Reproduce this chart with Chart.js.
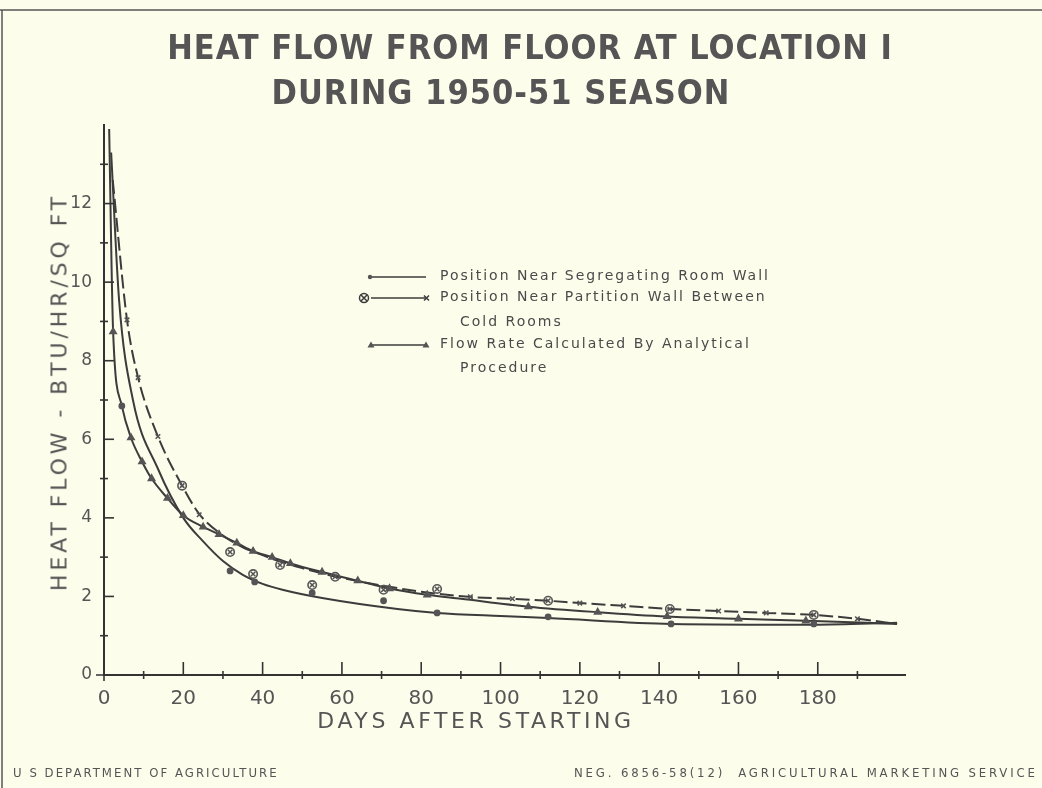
<!DOCTYPE html>
<html>
<head>
<meta charset="utf-8">
<script src="https://cdn.jsdelivr.net/npm/chart.js@4/dist/chart.umd.min.js"></script>
<style>
  html,body{margin:0;padding:0;background:#fdfdec;}
  #wrap{position:relative;width:1042px;height:788px;overflow:hidden;background:#fdfdec;}
  canvas{position:absolute;left:0;top:0;}
  .t{position:absolute;color:#555;white-space:nowrap;font-family:"DejaVu Sans Condensed","DejaVu Sans",sans-serif;}
  .title{font-weight:bold;font-size:34px;letter-spacing:1px;transform:translateX(-50%);}
  .leg{font-family:"DejaVu Sans","Liberation Sans",sans-serif;font-size:14px;color:#4a4a4a;letter-spacing:2px;}
  .foot{font-size:13px;color:#555;}
  .axt{font-family:"DejaVu Sans","Liberation Sans",sans-serif;font-size:22px;color:#555;}
</style>
</head>
<body>
<div id="wrap">
  <canvas id="c" width="1042" height="788"></canvas>
  <div class="t title" style="left:530px;top:27px;">HEAT FLOW FROM FLOOR AT LOCATION I</div>
  <div class="t title" style="left:501px;top:72px;">DURING 1950-51 SEASON</div>
  <div class="t axt" style="left:59px;top:392px;letter-spacing:3.9px;transform:translate(-50%,-50%) rotate(-90deg);">HEAT FLOW - BTU/HR/SQ FT</div>
  <div class="t axt" style="left:476px;top:708px;letter-spacing:3.6px;transform:translateX(-50%);">DAYS AFTER STARTING</div>
  <div class="t leg" style="left:440px;top:267px;">Position Near Segregating Room Wall</div>
  <div class="t leg" style="left:440px;top:288px;">Position Near Partition Wall Between</div>
  <div class="t leg" style="left:460px;top:313px;">Cold Rooms</div>
  <div class="t leg" style="left:440px;top:335px;">Flow Rate Calculated By Analytical</div>
  <div class="t leg" style="left:460px;top:359px;">Procedure</div>
  <div class="t foot" style="left:13px;top:765px;letter-spacing:2.05px;">U S DEPARTMENT OF AGRICULTURE</div>
  <div class="t foot" style="left:574px;top:765px;letter-spacing:2.85px;">NEG. 6856-58(12)&nbsp;&nbsp;AGRICULTURAL MARKETING SERVICE</div>
</div>
<script>
// ---- Data ----
// Fitted curve: Position Near Segregating Room Wall
const wallDays = [1.8, 3.8, 7.3, 13.6, 20, 25, 30, 35, 40, 45, 55, 74, 84, 100, 112, 143, 179, 200];
const wallVals = [13.3, 9.55, 7.0, 5.25, 4.0, 3.4, 2.9, 2.55, 2.32, 2.17, 1.96, 1.68, 1.58, 1.5, 1.45, 1.3, 1.28, 1.33];
// Observed points (small dots)
const wallPtDays = [4.5, 31.8, 38, 52.5, 70.5, 84, 112, 143, 179];
const wallPtVals = [6.85, 2.65, 2.37, 2.09, 1.89, 1.58, 1.48, 1.3, 1.3];

// Fitted curve: Position Near Partition Wall Between Cold Rooms (dashed)
const partDays = [2.2, 5.8, 8.6, 13.6, 19.7, 24, 30, 35, 40, 45, 50, 60, 70, 80, 92, 103, 112, 120, 131, 143, 155, 167, 179, 190, 200];
const partVals = [12.6, 9.04, 7.57, 6.07, 4.82, 4.1, 3.55, 3.25, 3.05, 2.87, 2.72, 2.47, 2.28, 2.12, 1.99, 1.94, 1.89, 1.83, 1.76, 1.68, 1.63, 1.58, 1.53, 1.43, 1.3];
// Observed points: circled-cross
const partCircDays = [19.7, 31.8, 37.6, 44.4, 52.5, 58.3, 70.5, 84, 112, 142.7, 179];
const partCircVals = [4.82, 3.13, 2.57, 2.8, 2.29, 2.5, 2.17, 2.19, 1.89, 1.68, 1.53];
// Observed points: crosses
const partXDays = [5.8, 8.6, 13.6, 24, 92.4, 103, 120, 131, 155, 167, 190];
const partXVals = [9.04, 7.57, 6.07, 4.08, 1.99, 1.94, 1.83, 1.76, 1.63, 1.58, 1.43];

// Flow rate calculated by analytical procedure (triangles)
const calcDays = [1.3, 2.3, 4.5, 6.8, 9.6, 12, 16, 20, 25, 29, 33.5, 37.6, 42.4, 47, 55, 64, 72, 81.5, 90, 107, 124.5, 142, 160, 177, 200];
const calcVals = [13.9, 8.74, 6.85, 6.04, 5.43, 5.0, 4.5, 4.06, 3.77, 3.58, 3.36, 3.15, 3.0, 2.84, 2.62, 2.4, 2.2, 2.04, 1.94, 1.74, 1.6, 1.49, 1.43, 1.38, 1.3];
const calcPtDays = [2.3, 6.8, 9.6, 12, 16, 20, 25, 29, 33.5, 37.6, 42.4, 47, 55, 64, 72, 81.5, 107, 124.5, 142, 160, 177];
const calcPtVals = [8.74, 6.04, 5.43, 5.0, 4.5, 4.06, 3.77, 3.58, 3.36, 3.15, 3.0, 2.84, 2.62, 2.4, 2.2, 2.04, 1.74, 1.6, 1.49, 1.43, 1.38];

// Axis ticks
const xTickLabels = [0, 20, 40, 60, 80, 100, 120, 140, 160, 180];
const yTickLabels = [0, 2, 4, 6, 8, 10, 12];

const pts = (xs, ys) => xs.map((x, i) => ({x: x, y: ys[i]}));
const INK = '#3c3c3c';
const MARK = '#555';

const lineDs = (data, dash) => ({
  type: 'line', data: data, borderColor: INK, borderWidth: 2, borderDash: dash || [],
  pointRadius: 0, fill: false, cubicInterpolationMode: 'monotone', order: 2
});
const markDs = (data, style, r, filled) => ({
  type: 'line', data: data, showLine: false, pointStyle: style, pointRadius: r,
  pointBorderColor: MARK, pointBackgroundColor: filled ? MARK : 'rgba(0,0,0,0)',
  pointBorderWidth: 1.6, order: 1
});

const tickPlugin = {
  id: 'ticks',
  afterDraw(chart) {
    const ctx = chart.ctx, xs = chart.scales.x, ys = chart.scales.y, a = chart.chartArea;
    ctx.save();
    ctx.strokeStyle = '#333';
    ctx.lineWidth = 1.6;
    ctx.beginPath();
    ctx.moveTo(a.left - 8, a.bottom); ctx.lineTo(a.left, a.bottom);
    ctx.moveTo(a.left, a.bottom); ctx.lineTo(a.left, a.bottom + 6);
    ctx.stroke();
    for (let v = 10; v <= 190; v += 10) {
      const p = xs.getPixelForValue(v);
      ctx.beginPath();
      if (v % 20 === 0) { ctx.moveTo(p, a.bottom); ctx.lineTo(p, a.bottom - 13); }
      else { ctx.moveTo(p, a.bottom - 4); ctx.lineTo(p, a.bottom + 4); }
      ctx.stroke();
    }
    for (let v = 1; v <= 13; v += 1) {
      const p = ys.getPixelForValue(v);
      ctx.beginPath();
      if (v % 2 === 0) { ctx.moveTo(a.left, p); ctx.lineTo(a.left + 10, p); }
      else { ctx.moveTo(a.left - 4, p); ctx.lineTo(a.left + 4, p); }
      ctx.stroke();
    }
    // legend symbols
    ctx.strokeStyle = INK; ctx.fillStyle = MARK; ctx.lineWidth = 1.5;
    const seg = (y) => { ctx.beginPath(); ctx.moveTo(371, y); ctx.lineTo(426, y); ctx.stroke(); };
    seg(277); seg(298); seg(345);
    ctx.beginPath(); ctx.arc(370, 277, 2.2, 0, Math.PI * 2); ctx.fill();
    ctx.beginPath(); ctx.arc(364, 298, 4.5, 0, Math.PI * 2); ctx.stroke();
    ctx.beginPath(); ctx.moveTo(361, 295); ctx.lineTo(367, 301); ctx.moveTo(367, 295); ctx.lineTo(361, 301); ctx.stroke();
    ctx.beginPath(); ctx.moveTo(424, 295.5); ctx.lineTo(429, 300.5); ctx.moveTo(429, 295.5); ctx.lineTo(424, 300.5); ctx.stroke();
    const tri = (x, y) => { ctx.beginPath(); ctx.moveTo(x, y - 3.5); ctx.lineTo(x + 3.5, y + 2.5); ctx.lineTo(x - 3.5, y + 2.5); ctx.closePath(); ctx.fill(); };
    tri(371, 345); tri(426, 345);
    // frame lines of the original sheet
    ctx.strokeStyle = '#555'; ctx.lineWidth = 1.5;
    ctx.beginPath(); ctx.moveTo(0, 10); ctx.lineTo(1042, 10); ctx.moveTo(2, 10); ctx.lineTo(2, 788); ctx.stroke();
    ctx.restore();
  }
};

new Chart(document.getElementById('c'), {
  type: 'line',
  data: {
    datasets: [
      lineDs(pts(wallDays, wallVals)),
      lineDs(pts(partDays, partVals), [14, 5]),
      lineDs(pts(calcDays, calcVals)),
      markDs(pts(wallPtDays, wallPtVals), 'circle', 2.6, true),
      markDs(pts(partCircDays, partCircVals), 'circle', 4.2, false),
      markDs(pts(partCircDays, partCircVals), 'crossRot', 3.2, false),
      markDs(pts(partXDays, partXVals), 'crossRot', 3.2, false),
      markDs(pts(calcPtDays, calcPtVals), 'triangle', 3.6, true)
    ]
  },
  options: {
    responsive: false,
    animation: false,
    devicePixelRatio: 1,
    layout: { padding: { top: 125, right: 137, left: 0, bottom: 0 } },
    plugins: { legend: { display: false }, tooltip: { enabled: false }, title: { display: false } },
    scales: {
      x: {
        type: 'linear', min: 0, max: 202,
        afterFit: (s) => { s.height = 113; },
        afterBuildTicks: (s) => { s.ticks = xTickLabels.map(v => ({value: v})); },
        ticks: { color: '#555', font: { family: 'DejaVu Sans', size: 20 }, padding: 4, maxRotation: 0, autoSkip: false },
        grid: { display: false },
        border: { display: true, color: '#333', width: 2 }
      },
      y: {
        type: 'linear', min: 0, max: 14,
        afterFit: (s) => { s.width = 104; },
        afterBuildTicks: (s) => { s.ticks = yTickLabels.map(v => ({value: v})); },
        ticks: { color: '#555', font: { family: 'DejaVu Sans', size: 17 }, padding: 4, autoSkip: false },
        grid: { display: false },
        border: { display: true, color: '#333', width: 2 }
      }
    }
  },
  plugins: [tickPlugin]
});
</script>
</body>
</html>
